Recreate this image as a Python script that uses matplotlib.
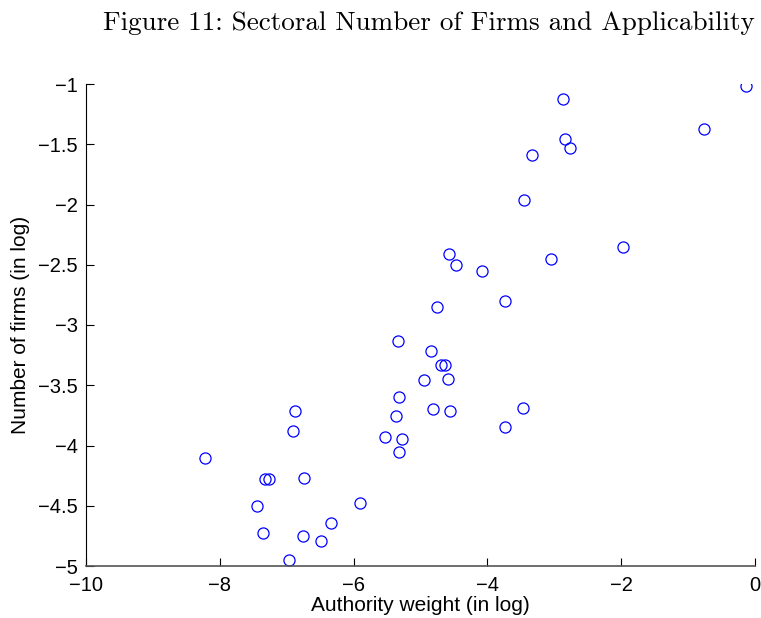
import matplotlib
matplotlib.use('Agg')
import matplotlib.pyplot as plt
import numpy as np

# authority weight (log) and number of firms (log)
auth_w = [-0.13, -2.875, -0.76, -2.84, -2.76, -3.34, -3.46, -1.97, -4.57, -4.47,
          -3.05, -4.08, -4.76, -3.73, -5.33, -4.84, -4.69, -4.63, -4.955, -4.59,
          -5.32, -4.82, -4.555, -3.47, -3.74, -5.36, -5.53, -5.27, -5.32, -6.87,
          -6.91, -8.22, -7.33, -7.26, -6.74, -7.45, -5.90, -6.335, -7.36, -6.75,
          -6.48, -6.97]
n_firms = [-1.014, -1.125, -1.37, -1.457, -1.53, -1.59, -1.96, -2.35, -2.41, -2.50,
           -2.455, -2.55, -2.85, -2.80, -3.13, -3.215, -3.33, -3.33, -3.46, -3.45,
           -3.60, -3.70, -3.71, -3.69, -3.85, -3.755, -3.93, -3.95, -4.05, -3.71,
           -3.88, -4.10, -4.28, -4.28, -4.27, -4.50, -4.48, -4.64, -4.73, -4.75,
           -4.79, -4.95]

xticks = [-10, -8, -6, -4, -2, 0]
yticks = [-5, -4.5, -4, -3.5, -3, -2.5, -2, -1.5, -1]

plt.rcParams['font.family'] = ['Liberation Sans', 'DejaVu Sans']

fig = plt.figure(figsize=(7.61, 6.18), dpi=100)
ax = fig.add_axes([86 / 761, 1 - 566 / 618, (755 - 86) / 761, (566 - 84) / 618])

ax.plot(auth_w, n_firms, 'o', mfc='none', mec='blue', ms=8, mew=0.9)

ax.set_xlim(-10, 0)
ax.set_ylim(-5, -1)
ax.set_xticks(xticks)
ax.set_yticks(yticks)
ax.set_xticklabels([str(t).replace('-', '\u2212') for t in xticks])
ax.set_yticklabels([('%g' % t).replace('-', '\u2212') for t in yticks])
ax.tick_params(direction='in', length=6, labelsize=14.5, width=0.8)
ax.tick_params(axis='x', pad=7)
ax.tick_params(axis='y', pad=6)
ax.spines['top'].set_visible(False)
ax.spines['right'].set_visible(False)
ax.spines['bottom'].set_color('#555555')
ax.spines['bottom'].set_linewidth(1.2)
ax.set_xlabel('Authority weight (in log)', fontsize=15, labelpad=1)
ax.set_ylabel('Number of firms (in log)', fontsize=15, labelpad=6)

fig.text(0.564, 0.962, 'Figure 11: Sectoral Number of Firms and Applicability',
         ha='center', va='center', fontsize=19.5, family='cmr10')

fig.savefig('out.png', dpi=100)
